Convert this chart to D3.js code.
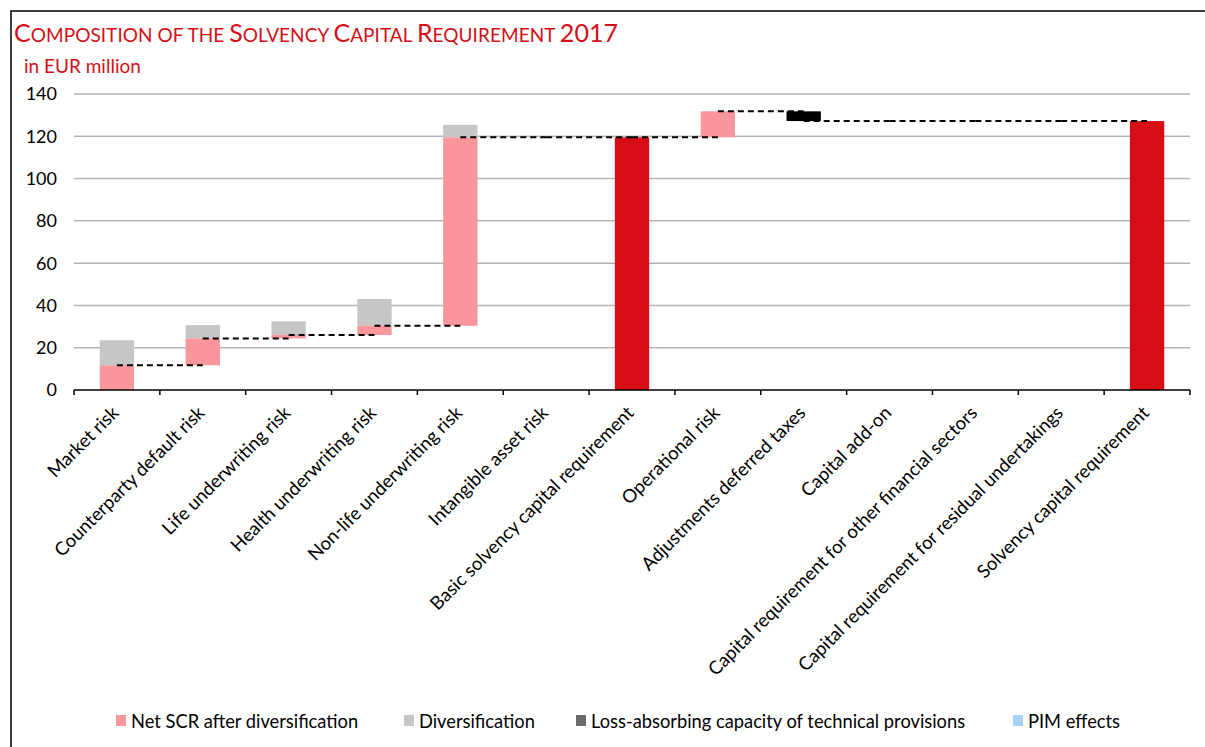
<!DOCTYPE html>
<html>
<head>
<meta charset="utf-8">
<script src="https://cdn.jsdelivr.net/npm/d3@7"></script>
<style>
  body { margin: 0; background: #fff; }
  text { font-family: Lato, "Open Sans", sans-serif; }
</style>
</head>
<body>
<div id="chart"></div>
<script>
const categories = [
  "Market risk", "Counterparty default risk", "Life underwriting risk",
  "Health underwriting risk", "Non-life underwriting risk", "Intangible asset risk",
  "Basic solvency capital requirement", "Operational risk", "Adjustments deferred taxes",
  "Capital add-on", "Capital requirement for other financial sectors",
  "Capital requirement for residual undertakings", "Solvency capital requirement"
];
// step = floating increment, total = bar from zero
const kinds = ["step", "step", "step", "step", "step", "step", "total", "step", "step", "step", "step", "step", "total"];
const netScr =          [11.7, 12.7, 1.6, 4.4, 89.1, 0, 0, 12.3, 0, 0, 0, 0, 0];
const diversification = [11.8, 6.3, 6.5, 12.6, 5.9, 0, 0, 0, 0, 0, 0, 0, 0];
const deferredTaxes =   [0, 0, 0, 0, 0, 0, 0, 0, -4.6, 0, 0, 0, 0];
const lossAbsorbing =   [0, 0, 0, 0, 0, 0, 0, 0, 0, 0, 0, 0, 0];
const pimEffects =      [0, 0, 0, 0, 0, 0, 0, 0, 0, 0, 0, 0, 0];
const yTicks = [0, 20, 40, 60, 80, 100, 120, 140];
const legendItems = [
  { label: "Net SCR after diversification", color: "#f8969b" },
  { label: "Diversification", color: "#c6c6c6" },
  { label: "Loss-absorbing capacity of technical provisions", color: "#6b6b6b" },
  { label: "PIM effects", color: "#a6d3f3" }
];

const W = 1205, H = 747;
const svg = d3.select("#chart").append("svg")
  .attr("width", W).attr("height", H);

// frame
svg.append("rect")
  .attr("x", 11).attr("y", 11).attr("width", W).attr("height", H)
  .attr("fill", "none").attr("stroke", "#000").attr("stroke-width", 1.5);

// title in small caps
const title = svg.append("text").attr("x", 14).attr("y", 42).attr("fill", "#d40f17");
const titleParts = [["C", 1], ["OMPOSITION OF THE ", 0], ["S", 1], ["OLVENCY ", 0], ["C", 1], ["APITAL ", 0], ["R", 1], ["EQUIREMENT ", 0], ["2017", 1]];
titleParts.forEach(p => title.append("tspan").attr("font-size", p[1] ? 25 : 19).text(p[0]));
title.attr("textLength", 604).attr("lengthAdjust", "spacing");

svg.append("text").attr("x", 24).attr("y", 73)
  .attr("fill", "#d40f17").attr("font-size", 19).text("in EUR million");

const x = d3.scaleBand()
  .domain(categories)
  .range([74, 1190])
  .paddingInner(0.6)
  .paddingOuter(0.3);

const y = d3.scaleLinear().domain([0, 140]).range([390, 94]);

// gridlines
svg.append("g").selectAll("line")
  .data(yTicks.filter(d => d > 0))
  .enter().append("line")
  .attr("x1", 74).attr("x2", 1190)
  .attr("y1", d => y(d)).attr("y2", d => y(d))
  .attr("stroke", "#b3b3b3").attr("stroke-width", 1.5);

// y labels
svg.append("g").selectAll("text")
  .data(yTicks)
  .enter().append("text")
  .attr("x", 57).attr("y", d => y(d)).attr("dy", "0.36em")
  .attr("text-anchor", "end").attr("font-size", 18).attr("fill", "#000")
  .text(d => d);

// cumulative levels
let run = 0;
const bars = categories.map((c, i) => {
  if (kinds[i] === "total") {
    return { c, i, start: 0, netEnd: run, end: run, total: true };
  }
  const start = run;
  run += netScr[i] + deferredTaxes[i];
  return { c, i, start, netEnd: start + netScr[i], end: run, total: false };
});

const bw = x.bandwidth();
const cx = c => x(c) + bw / 2;

// diversification on top of net
svg.append("g").selectAll("rect")
  .data(bars.filter(d => diversification[d.i] > 0))
  .enter().append("rect")
  .attr("x", d => x(d.c)).attr("width", bw)
  .attr("y", d => y(d.netEnd + diversification[d.i]))
  .attr("height", d => y(d.netEnd) - y(d.netEnd + diversification[d.i]))
  .attr("fill", "#c6c6c6");

// net SCR pieces
svg.append("g").selectAll("rect")
  .data(bars.filter(d => !d.total && netScr[d.i] > 0))
  .enter().append("rect")
  .attr("x", d => x(d.c)).attr("width", bw)
  .attr("y", d => y(d.netEnd))
  .attr("height", d => y(d.start) - y(d.netEnd))
  .attr("fill", "#f8969b");

// deferred taxes
svg.append("g").selectAll("rect")
  .data(bars.filter(d => deferredTaxes[d.i] !== 0))
  .enter().append("rect")
  .attr("x", d => x(d.c)).attr("width", bw)
  .attr("y", d => y(d.start))
  .attr("height", d => y(d.end) - y(d.start))
  .attr("fill", "#000");

// totals
svg.append("g").selectAll("rect")
  .data(bars.filter(d => d.total))
  .enter().append("rect")
  .attr("x", d => x(d.c)).attr("width", bw)
  .attr("y", d => y(d.end))
  .attr("height", d => y(0) - y(d.end))
  .attr("fill", "#d60d15");

// connectors
svg.append("g").selectAll("line")
  .data(bars.slice(0, -1))
  .enter().append("line")
  .attr("x1", d => cx(d.c)).attr("x2", d => cx(categories[d.i + 1]))
  .attr("y1", d => y(d.end)).attr("y2", d => y(d.end))
  .attr("stroke", "#000").attr("stroke-width", 2)
  .attr("stroke-dasharray", "6,4");

// x axis
const step = x.step();
const axis = svg.append("g");
axis.append("line")
  .attr("x1", 74).attr("x2", 1190).attr("y1", y(0)).attr("y2", y(0))
  .attr("stroke", "#000").attr("stroke-width", 1.5);
axis.selectAll(".tick")
  .data(d3.range(categories.length + 1))
  .enter().append("line")
  .attr("x1", i => 74 + i * step).attr("x2", i => 74 + i * step)
  .attr("y1", y(0)).attr("y2", y(0) + 5)
  .attr("stroke", "#000").attr("stroke-width", 1.5);

axis.selectAll("text")
  .data(categories)
  .enter().append("text")
  .attr("transform", d => `translate(${cx(d) + 3},${414}) rotate(-45)`)
  .attr("text-anchor", "end").attr("font-size", 18.5).attr("fill", "#000")
  .text(d => d);

// legend
const legend = svg.append("g");
const legendX = [116, 404, 576, 1013];
legendItems.forEach((d, i) => {
  const g = legend.append("g").attr("transform", `translate(${legendX[i]},715)`);
  g.append("rect").attr("width", 10).attr("height", 11).attr("fill", d.color);
  g.append("text").attr("x", 15).attr("y", 13).attr("font-size", 18.3).attr("fill", "#000").text(d.label);
});
</script>
</body>
</html>
